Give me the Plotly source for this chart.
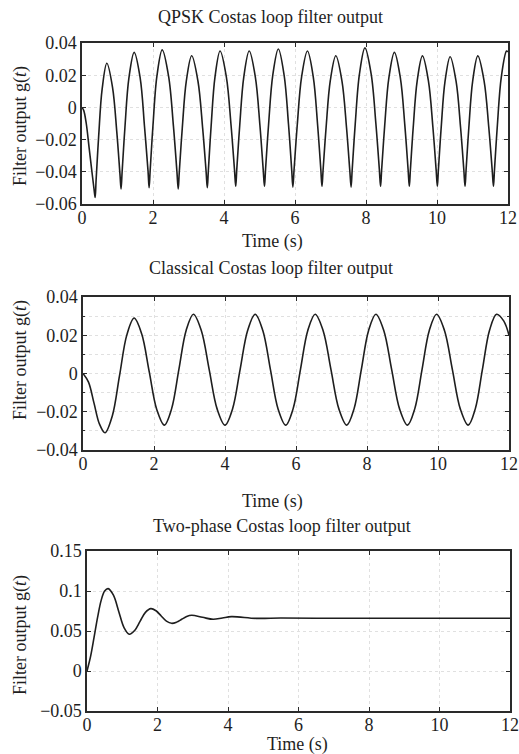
import plotly.graph_objects as go

# ---------------- data ----------------
qpsk_t = [0, 0.05, 0.12, 0.2, 0.28, 0.34, 0.37,
          0.396, 0.469, 0.568, 0.70, 0.86, 0.98, 1.068, 1.10,
          1.13, 1.21, 1.32, 1.47, 1.64, 1.76, 1.86, 1.89,
          1.92, 2.00, 2.11, 2.26, 2.44, 2.575, 2.674, 2.71,
          2.74, 2.824, 2.938, 3.09, 3.266, 3.398, 3.495, 3.53,
          3.559, 3.638, 3.746, 3.89, 4.066, 4.198, 4.295, 4.33,
          4.36, 4.444, 4.558, 4.71, 4.882, 5.011, 5.104, 5.14,
          5.171, 5.257, 5.374, 5.53, 5.694, 5.817, 5.907, 5.94,
          5.973, 6.063, 6.186, 6.35, 6.514, 6.637, 6.727, 6.76,
          6.791, 6.877, 6.994, 7.15, 7.322, 7.451, 7.544, 7.58,
          7.611, 7.697, 7.814, 7.97, 8.146, 8.278, 8.375, 8.41,
          8.441, 8.527, 8.644, 8.80, 8.968, 9.094, 9.186, 9.22,
          9.25, 9.331, 9.442, 9.59, 9.758, 9.884, 9.976, 10.01,
          10.039, 10.118, 10.226, 10.37, 10.538, 10.664, 10.756, 10.79,
          10.819, 10.898, 11.006, 11.15, 11.326, 11.458, 11.555, 11.59,
          11.62, 11.701, 11.812, 11.96, 12.0]
qpsk_g = [0, -0.002, -0.010, -0.025, -0.040, -0.051, -0.056,
          -0.0456, -0.0181, 0.0115, 0.0274, 0.0125, -0.0152, -0.041, -0.0507,
          -0.0401, -0.0122, 0.018, 0.0342, 0.0181, -0.0117, -0.0394, -0.0499,
          -0.0392, -0.0110, 0.0194, 0.0357, 0.0192, -0.0115, -0.0399, -0.0507,
          -0.0403, -0.0131, 0.0163, 0.0321, 0.0164, -0.0127, -0.0396, -0.0499,
          -0.0393, -0.0114, 0.0188, 0.035, 0.019, -0.0109, -0.0385, -0.049,
          -0.0385, -0.0109, 0.019, 0.035, 0.019, -0.0109, -0.0385, -0.049,
          -0.0383, -0.0103, 0.020, 0.0363, 0.0199, -0.0105, -0.0388, -0.0495,
          -0.0389, -0.0111, 0.0189, 0.035, 0.019, -0.0109, -0.0385, -0.049,
          -0.0389, -0.0122, 0.0166, 0.0321, 0.0165, -0.0125, -0.0393, -0.0495,
          -0.0387, -0.0102, 0.0205, 0.037, 0.0206, -0.010, -0.0382, -0.049,
          -0.0386, -0.0112, 0.0183, 0.0342, 0.0183, -0.0112, -0.0386, -0.049,
          -0.0389, -0.0122, 0.0165, 0.032, 0.0165, -0.0122, -0.0389, -0.049,
          -0.0389, -0.0125, 0.0161, 0.0315, 0.0161, -0.0125, -0.0389, -0.049,
          -0.0389, -0.0122, 0.0165, 0.032, 0.0165, -0.0122, -0.0389, -0.049,
          -0.0385, -0.0109, 0.019, 0.035, 0.0345]

classic_t = [0, 0.155, 0.31, 0.465, 0.62,
             0.825, 1.03, 1.235, 1.44,
             1.6525, 1.865, 2.0775, 2.29,
             2.495, 2.70, 2.905, 3.11,
             3.3325, 3.555, 3.7775, 4.0,
             4.2125, 4.425, 4.6375, 4.85,
             5.065, 5.28, 5.495, 5.71,
             5.9175, 6.125, 6.3325, 6.54,
             6.7625, 6.985, 7.2075, 7.43,
             7.635, 7.84, 8.045, 8.25,
             8.4725, 8.695, 8.9175, 9.14,
             9.345, 9.55, 9.755, 9.96,
             10.1825, 10.405, 10.6275, 10.85,
             11.05, 11.25, 11.45, 11.65,
             11.85, 12.0]
classic_g = [0, -0.0045, -0.0155, -0.0265, -0.031,
             -0.0222, -0.001, 0.0202, 0.029,
             0.0208, 0.001, -0.0188, -0.027,
             -0.0185, 0.002, 0.0225, 0.031,
             0.0225, 0.002, -0.0185, -0.027,
             -0.0185, 0.002, 0.0225, 0.031,
             0.0225, 0.002, -0.0185, -0.027,
             -0.0185, 0.002, 0.0225, 0.031,
             0.0225, 0.002, -0.0185, -0.027,
             -0.0185, 0.002, 0.0225, 0.031,
             0.0225, 0.002, -0.0185, -0.027,
             -0.0185, 0.002, 0.0225, 0.031,
             0.0225, 0.002, -0.0185, -0.027,
             -0.0185, 0.002, 0.0225, 0.031,
             0.0275, 0.020]

twophase_t = [0, 0.1, 0.2, 0.3, 0.4, 0.5, 0.6, 0.75, 0.9, 1.05, 1.2,
              1.3525, 1.505, 1.6575, 1.81, 1.9575, 2.105, 2.2525, 2.40,
              2.5425, 2.685, 2.8275, 2.97, 3.275, 3.58, 3.84, 4.10,
              4.8, 5.5, 6.5, 8, 10, 12]
twophase_g = [0, 0.018, 0.042, 0.067, 0.088, 0.100, 0.103, 0.0947, 0.0745, 0.0543, 0.046,
              0.0507, 0.062, 0.0733, 0.078, 0.0753, 0.0688, 0.0623, 0.0596,
              0.0611, 0.0646, 0.0681, 0.0696, 0.0671, 0.0646, 0.0663, 0.068,
              0.0658, 0.0662, 0.066, 0.066, 0.066, 0.066]

titles = ["QPSK Costas loop filter output",
          "Classical Costas loop filter output",
          "Two-phase Costas loop filter output"]
x_ticks = [0, 2, 4, 6, 8, 10, 12]
y_ticks_top = [-0.06, -0.04, -0.02, 0, 0.02, 0.04]
y_ticks_mid = [-0.04, -0.02, 0, 0.02, 0.04]
y_ticks_bot = [-0.05, 0, 0.05, 0.1, 0.15]
y_tick_text_top = ["\u22120.06", "\u22120.04", "\u22120.02", "0", "0.02", "0.04"]
y_tick_text_mid = ["\u22120.04", "\u22120.02", "0", "0.02", "0.04"]
y_tick_text_bot = ["\u22120.05", "0", "0.05", "0.1", "0.15"]

# ---------------- figure ----------------
W, H = 519, 754
FONT = "Liberation Serif, Times New Roman, serif"
INK = "#1e1e1e"
GRID = "#e0e0e0"

def fx(v):
    return v / W

def fy(v):
    return 1 - v / H

fig = go.Figure()
series = [(qpsk_t, qpsk_g), (classic_t, classic_g), (twophase_t, twophase_g)]
for i, (t, g) in enumerate(series):
    sfx = "" if i == 0 else str(i + 1)
    fig.add_trace(go.Scatter(x=t, y=g, mode="lines", xaxis="x" + sfx, yaxis="y" + sfx,
                             line=dict(color=INK, width=1.6, shape="spline", smoothing=1.0),
                             hoverinfo="skip", showlegend=False))

# window-pixel boxes: (left, right, top, bottom)
boxes = [(82, 508, 43, 204), (83, 509, 297, 450), (87, 510, 551, 711)]
yranges = [[-0.06, 0.04], [-0.04, 0.04], [-0.05, 0.15]]
yticks = [(y_ticks_top, y_tick_text_top), (y_ticks_mid, y_tick_text_mid), (y_ticks_bot, y_tick_text_bot)]

common = dict(showline=True, linecolor="#2a2a2a", linewidth=1.6, mirror="ticks",
              ticks="inside", ticklen=4, tickcolor="#2a2a2a", tickwidth=1,
              showgrid=True, gridcolor=GRID, griddash="dot", gridwidth=1,
              zeroline=False, automargin=False,
              tickfont=dict(family=FONT, size=18, color=INK))

layout = dict(width=W, height=H, margin=dict(l=0, r=0, t=0, b=0, autoexpand=False),
              paper_bgcolor="white", plot_bgcolor="white", showlegend=False)

for i, (l, r, tp, bt) in enumerate(boxes):
    sfx = "" if i == 0 else str(i + 1)
    xa = dict(common, domain=[fx(l), fx(r)], range=[0, 12], tickvals=x_ticks,
              anchor="y" + sfx, ticklabelstandoff=-3)
    ya = dict(common, domain=[fy(bt), fy(tp)], range=yranges[i],
              tickvals=yticks[i][0], ticktext=yticks[i][1], anchor="x" + sfx,
              ticklabelstandoff=0)
    if i == 1:
        ya["minor"] = dict(dtick=0.01, showgrid=True, gridcolor=GRID, griddash="dot",
                           ticks="inside", ticklen=2, tickcolor="#2a2a2a")
    layout["xaxis" + sfx] = xa
    layout["yaxis" + sfx] = ya

ann = []
def add_text(text, x, y, size=18, angle=0):
    ann.append(dict(text=text, x=fx(x), y=fy(y), xref="paper", yref="paper",
                    showarrow=False, xanchor="center", yanchor="middle", textangle=angle,
                    font=dict(family=FONT, size=size, color=INK)))

add_text(titles[0], 270, 17)
add_text(titles[1], 271, 268)
add_text(titles[2], 282, 526)
add_text("Time (s)", 272, 241)
add_text("Time (s)", 272, 502)
add_text("Time (s)", 297, 744)
ytitle = "Filter output g(<i>t</i>)"
add_text(ytitle, 20, 126, angle=-90)
add_text(ytitle, 20, 360, angle=-90)
add_text(ytitle, 20, 635, angle=-90)
layout["annotations"] = ann

fig.update_layout(**layout)
# remove the default 8 px page margin so the figure fills the window exactly
fig.write_html("out.html", config={"displayModeBar": False, "staticPlot": True},
               post_script="document.body.style.margin='0';document.body.style.overflow='hidden';")
